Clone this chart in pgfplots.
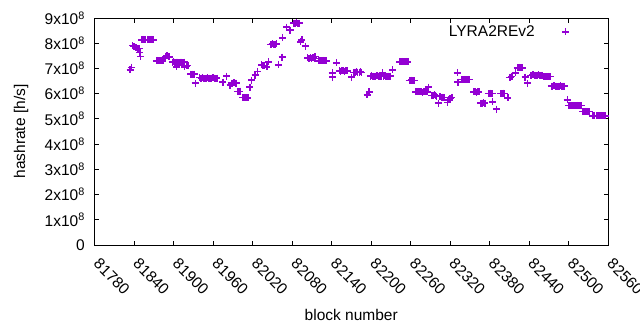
\documentclass[border=0pt]{standalone}
\usepackage{fontspec}
\setmainfont{Liberation Sans}
\usepackage{pgfplots}
\pgfplotsset{compat=1.18}
\definecolor{gpviolet}{HTML}{9400D3}
\newcommand{\gpfont}{\fontsize{15.5}{18}\selectfont}
\begin{document}
\begin{tikzpicture}[font=\gpfont]
\useasboundingbox (-94.5pt,-85pt) rectangle (545.5pt,245pt);
\begin{axis}[
  at={(0pt,0pt)}, anchor=south west,
  scale only axis, width=513.5pt, height=227pt,
  xmin=81780, xmax=82560, ymin=0, ymax=9e8,
  xtick={81780,81840,81900,81960,82020,82080,82140,82200,82260,82320,82380,82440,82500,82560},
  ytick={0,1e8,2e8,3e8,4e8,5e8,6e8,7e8,8e8,9e8},
  yticklabels={0,1x10\textsuperscript{8},2x10\textsuperscript{8},3x10\textsuperscript{8},4x10\textsuperscript{8},5x10\textsuperscript{8},6x10\textsuperscript{8},7x10\textsuperscript{8},8x10\textsuperscript{8},9x10\textsuperscript{8}},
  scaled y ticks=false, scaled x ticks=false,
  tick align=inside, major tick length=4.5pt,
  axis line style={line width=0.9pt},
  every tick/.style={black, line width=0.9pt},
  /pgf/number format/assume math mode=true,
  /pgf/number format/1000 sep={},
  tick label style={font=\gpfont, inner sep=0pt},
  xticklabel style={xshift=6pt, rotate=-45, anchor=north west},
  xticklabel shift=12pt, yticklabel shift=9.5pt,
  xlabel={block number}, ylabel={hashrate [h/s]},
  xlabel style={at={(axis description cs:0.5,-0.3348)}, anchor=base, inner sep=0pt, font=\gpfont},
  ylabel style={at={(axis description cs:-0.1353,0.5)}, anchor=base, inner sep=0pt, font=\gpfont},
  legend cell align=right,
  legend plot pos=right,
  legend style={draw=none, fill=none, at={(0.925,0.967)}, anchor=north east, inner sep=0pt, font=\gpfont, nodes={inner sep=0pt}},
  legend image code/.code={\path[draw=none] (0pt,0pt) rectangle (0.1pt,0.1pt); \draw[#1] plot coordinates {(31pt,0pt)};},
]
\addplot[only marks, mark=+, mark size=3.5pt, gpviolet, mark options={line width=1.3pt}] table {
x y
81834 6.94e8
81836 7.05e8
81838 7.90e8
81840 7.88e8
81842 7.85e8
81844 7.82e8
81846 7.80e8
81848 7.80e8
81849 7.62e8
81850 7.47e8
81852 8.13e8
81854 8.15e8
81856 8.13e8
81858 8.13e8
81860 8.15e8
81862 8.13e8
81864 8.13e8
81866 8.15e8
81868 8.13e8
81870 8.13e8
81874 7.30e8
81876 7.32e8
81878 7.30e8
81880 7.30e8
81882 7.32e8
81884 7.30e8
81886 7.40e8
81888 7.48e8
81890 7.50e8
81892 7.48e8
81894 7.46e8
81898 7.25e8
81900 7.27e8
81902 7.25e8
81904 7.25e8
81905 7.06e8
81906 7.25e8
81908 7.23e8
81910 7.25e8
81912 7.25e8
81914 7.23e8
81916 7.25e8
81917 7.06e8
81920 7.10e8
81922 7.12e8
81926 6.78e8
81928 6.78e8
81930 6.76e8
81932 6.78e8
81933 6.42e8
81940 6.65e8
81942 6.62e8
81944 6.65e8
81946 6.62e8
81948 6.60e8
81950 6.62e8
81952 6.65e8
81954 6.62e8
81956 6.60e8
81958 6.62e8
81960 6.65e8
81962 6.62e8
81964 6.60e8
81966 6.62e8
81975 6.46e8
81981 6.70e8
81986 6.34e8
81988 6.42e8
81990 6.42e8
81992 6.44e8
81994 6.42e8
81996 6.42e8
81997 6.08e8
81999 6.08e8
82001 6.10e8
82005 5.85e8
82007 5.85e8
82009 5.83e8
82011 5.85e8
82013 5.83e8
82016 6.26e8
82019 6.54e8
82024 6.74e8
82028 6.88e8
82034 7.14e8
82036 7.12e8
82038 7.10e8
82042 7.06e8
82044 7.26e8
82048 7.95e8
82050 7.97e8
82052 7.95e8
82054 7.95e8
82056 7.97e8
82059 7.14e8
82065 7.45e8
82066 8.21e8
82072 8.64e8
82077 8.52e8
82083 8.80e8
82085 8.80e8
82087 8.82e8
82089 8.80e8
82091 8.80e8
82093 8.05e8
82095 8.13e8
82100 7.89e8
82104 7.42e8
82106 7.40e8
82108 7.42e8
82110 7.40e8
82112 7.42e8
82114 7.40e8
82115 7.47e8
82120 7.30e8
82122 7.32e8
82124 7.30e8
82126 7.30e8
82128 7.32e8
82130 7.30e8
82132 7.30e8
82141 6.82e8
82142 6.66e8
82148 7.22e8
82152 6.90e8
82154 6.88e8
82156 6.90e8
82158 6.90e8
82160 6.88e8
82162 6.90e8
82164 6.90e8
82170 6.66e8
82174 6.85e8
82176 6.85e8
82178 6.87e8
82180 6.85e8
82182 6.85e8
82184 6.87e8
82186 6.85e8
82194 5.95e8
82197 6.07e8
82199 6.70e8
82201 6.72e8
82203 6.70e8
82205 6.68e8
82207 6.70e8
82209 6.72e8
82211 6.70e8
82213 6.68e8
82215 6.70e8
82217 6.82e8
82219 6.70e8
82221 6.72e8
82223 6.70e8
82225 6.68e8
82227 6.70e8
82229 6.70e8
82233 6.94e8
82244 7.26e8
82246 7.26e8
82248 7.28e8
82250 7.26e8
82252 7.26e8
82254 7.28e8
82256 7.26e8
82258 6.52e8
82260 6.52e8
82262 6.54e8
82264 6.52e8
82266 6.52e8
82268 6.07e8
82270 6.07e8
82272 6.09e8
82274 6.07e8
82276 6.07e8
82278 6.05e8
82280 6.07e8
82282 6.07e8
82284 6.09e8
82286 6.07e8
82287 6.26e8
82292 5.93e8
82294 5.93e8
82296 5.95e8
82298 5.93e8
82300 5.90e8
82302 5.63e8
82304 5.88e8
82306 5.88e8
82308 5.86e8
82310 5.85e8
82312 5.85e8
82316 5.65e8
82318 5.75e8
82320 5.80e8
82323 5.85e8
82331 6.82e8
82332 6.46e8
82338 6.55e8
82340 6.55e8
82342 6.57e8
82344 6.55e8
82346 6.55e8
82348 6.57e8
82350 6.55e8
82356 6.07e8
82358 6.07e8
82360 6.05e8
82362 6.07e8
82364 6.07e8
82367 5.63e8
82369 5.63e8
82371 5.65e8
82373 5.63e8
82378 6.00e8
82380 6.00e8
82382 6.02e8
82384 6.00e8
82385 5.67e8
82391 5.39e8
82397 6.00e8
82399 6.00e8
82401 6.02e8
82403 6.00e8
82408 5.83e8
82410 6.65e8
82412 6.65e8
82414 6.67e8
82419 6.82e8
82422 7.02e8
82424 7.02e8
82426 7.04e8
82428 7.02e8
82430 7.02e8
82434 6.66e8
82438 6.42e8
82442 6.73e8
82444 6.73e8
82446 6.75e8
82448 6.73e8
82450 6.73e8
82452 6.73e8
82454 6.75e8
82456 6.73e8
82458 6.73e8
82460 6.73e8
82462 6.68e8
82464 6.68e8
82466 6.68e8
82468 6.68e8
82470 6.68e8
82472 6.68e8
82474 6.30e8
82476 6.30e8
82478 6.32e8
82480 6.30e8
82482 6.30e8
82484 6.30e8
82486 6.30e8
82488 6.32e8
82490 6.30e8
82492 6.30e8
82494 6.30e8
82498 5.75e8
82500 5.52e8
82502 5.52e8
82504 5.54e8
82506 5.52e8
82508 5.52e8
82510 5.52e8
82512 5.52e8
82514 5.54e8
82516 5.52e8
82518 5.52e8
82520 5.52e8
82522 5.28e8
82524 5.28e8
82526 5.30e8
82528 5.28e8
82530 5.28e8
82532 5.28e8
82536 5.12e8
82538 5.12e8
82540 5.14e8
82542 5.12e8
82544 5.12e8
82546 5.12e8
82548 5.12e8
82550 5.14e8
82552 5.12e8
82554 5.12e8
82556 5.12e8
};
\addlegendentry{LYRA2REv2}
\end{axis}
\end{tikzpicture}
\end{document}
